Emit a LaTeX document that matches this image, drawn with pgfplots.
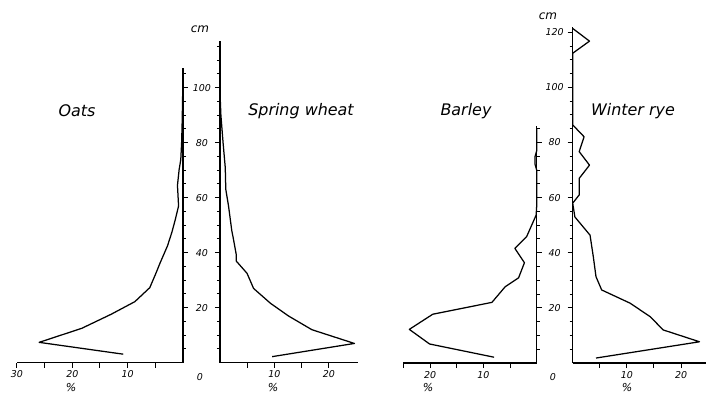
\documentclass[border=0pt]{standalone}
\usepackage{fontspec}
\setmainfont{DejaVu Sans}
\usepackage{pgfplots}
\pgfplotsset{compat=1.18}

\newcommand\fs[1]{\fontsize{#1}{#1}\selectfont}

% Root distribution profiles: share of roots (%) against depth (cm)
\pgfplotsset{
  profile/.style={
    scale only axis, clip=false,
    xmin=0, ymin=0,
    axis x line*=bottom, axis y line*=left,
    axis line style={line width=1.4bp, -},
    tick style={black, line width=1bp},
    major tick length=5bp, minor tick length=3bp,
    tick align=outside,
    ytick={20,40,...,120}, minor ytick={5,10,...,120},
    ticklabel style={font=\itshape\fs{9.5}, inner sep=1bp},
    xticklabel style={yshift=-2bp},
    yticklabels={},
  },
  % profiles that grow to the left: y axis line sits at the zero (right) end
  leftward/.style={x dir=reverse, axis y line*=right},
  curve/.style={black, line width=1.25bp, no markers, line join=round},
}

\begin{document}
\begin{tikzpicture}[font=\itshape]
\path[use as bounding box] (0,0) rectangle (706bp,395bp);

% ---------------- Oats (to the left) ----------------
\begin{axis}[profile, leftward, at={(17bp,32.3bp)}, anchor=south west,
  xmax=30, width=166bp, ymax=107, height=294.2bp,
  xtick={5,10,...,30}, xticklabels={,10,,20,,30}]
\addplot[curve] coordinates {
  (10.8,3.1) (26.0,7.4) (18.3,12.5) (13.0,17.6) (8.7,22.2) (6.0,27.3)
  (5.0,32.0) (4.2,36.0) (2.8,42.5) (2.0,47.5) (1.4,52.0) (0.8,57.0)
  (1.0,64.5) (0.7,70.2) (0.4,73.9) (0.25,80.0) (0.15,87.5) (0.1,93.0)
  (0.05,99.0)};
\end{axis}

% ---------------- Spring wheat (to the right) ----------------
\begin{axis}[profile, at={(219.8bp,32.3bp)}, anchor=south west,
  xmax=25.4, width=138.4bp, ymax=117, height=321.75bp,
  xtick={5,10,15,20}, xticklabels={,10,,20},
  yticklabels={20,40,60,80,100}, yticklabel style={anchor=center, xshift=-13bp}]
\addplot[curve] coordinates {
  (9.6,2.2) (24.7,7.0) (16.9,12.0) (12.6,17.0) (9.3,21.6) (6.2,27.0)
  (5.0,32.5) (3.0,37.0) (3.0,39.5) (2.5,45.0) (2.2,48.0) (1.6,57.0)
  (1.1,63.0) (1.0,71.0) (0.6,80.0) (0.4,85.0) (0.2,90.0) (0.1,95.0)
  (0.05,100.0)};
\end{axis}

% ---------------- Barley (to the left) ----------------
\begin{axis}[profile, leftward, at={(403.45bp,32bp)}, anchor=south west,
  xmax=25, width=133.25bp, ymax=86, height=237bp,
  xtick={5,10,...,25}, xticklabels={,10,,20,}]
\addplot[curve] coordinates {
  (8.0,2.1) (20.1,6.9) (23.9,12.2) (19.5,17.7) (8.4,22.0) (5.9,27.7)
  (3.4,30.9) (2.3,36.4) (4.1,41.6) (1.9,45.8) (0.1,53.7) (0,57)
  (0,70) (0.3,72) (0.3,75) (0,77) (0,85)};
\end{axis}

% ---------------- Winter rye (to the right) ----------------
\begin{axis}[profile, at={(572.7bp,32bp)}, anchor=south west,
  xmax=24.6, width=133.3bp, ymax=122, height=336.2bp,
  xtick={5,10,15,20}, xticklabels={,10,,20},
  yticklabels={20,40,60,80,100,120}, yticklabel style={anchor=center, xshift=-13bp}]
\addplot[curve] coordinates {
  (4.3,1.8) (23.4,7.7) (16.7,12.0) (14.3,16.8) (10.6,21.7) (5.35,26.5)
  (4.3,31.3) (3.8,38.6) (3.2,46.4) (0.4,53.0) (0,58.0) (1.2,61.0)
  (1.2,67.0) (3.1,71.8) (1.2,76.7) (2.1,82.1) (0,86.4) (0,112.4)
  (3.1,116.8) (0,121.4)};
\end{axis}

% shared axis annotations
\node at (200bp,18bp) {\fs{9.5}0};
\node at (553bp,18bp) {\fs{9.5}0};
\node at (200bp,366bp) {\fs{12}cm};
\node at (548bp,379bp) {\fs{12}cm};
\foreach \x in {71,273,428,627} \node at (\x bp,7bp) {\fs{11}\%};

% crop titles
\node at (77bp,284bp) {\fs{16}Oats};
\node at (301bp,284bp) {\fs{16}Spring wheat};
\node at (466bp,284bp) {\fs{16}Barley};
\node at (633bp,284bp) {\fs{16}Winter rye};
\end{tikzpicture}
\end{document}
